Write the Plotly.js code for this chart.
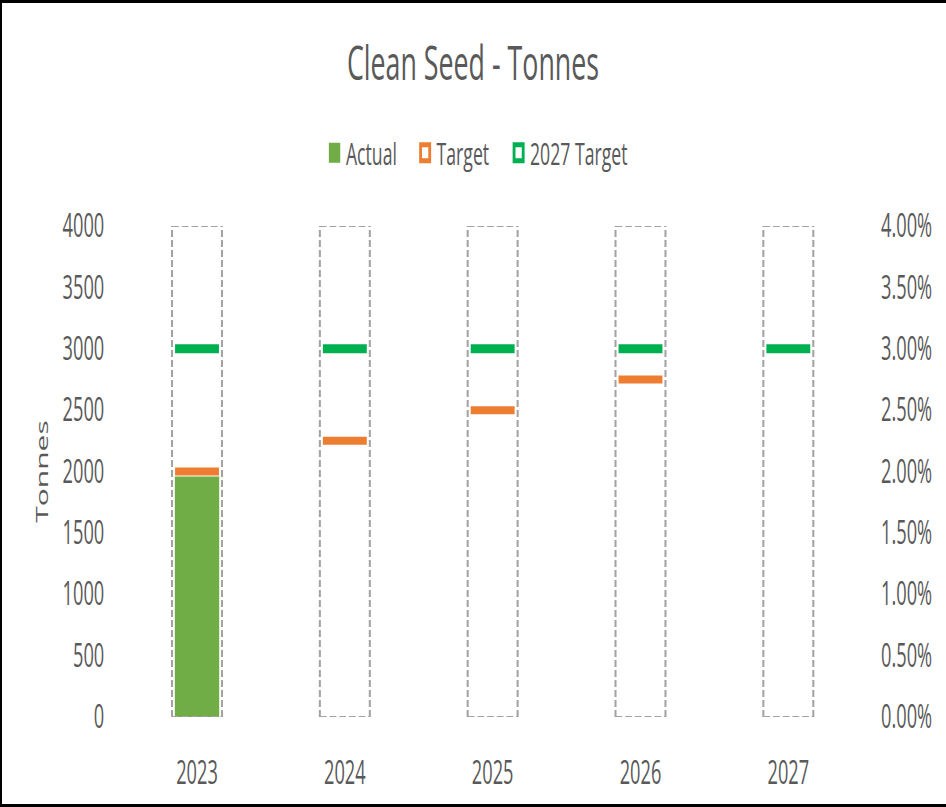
<!DOCTYPE html>
<html><head><meta charset="utf-8">
<script src="https://cdn.plot.ly/plotly-3.0.1.min.js"></script>
<style>
html,body{margin:0;padding:0;background:#fff;}
#wrap{position:relative;width:946px;height:807px;overflow:hidden;}
#chart{position:absolute;left:0;top:0;width:1660px;height:807px;transform:scaleX(0.569880);transform-origin:0 0;}
#frame{position:absolute;left:0;top:0;width:946px;height:807px;box-sizing:border-box;border-top:3px solid #000;border-left:2px solid #000;border-bottom:3px solid #000;pointer-events:none;}
</style></head><body>
<div id="wrap"><div id="chart"></div><div id="frame"></div></div>
<script>
// ---- data ----
const years = ['2023', '2024', '2025', '2026', '2027'];
const actual = [1960, null, null, null, null];
const target = [2000, 2250, 2500, 2750, null];
const target2027 = [3000, 3000, 3000, 3000, 3000];
const capacityPct = [0.04, 0.04, 0.04, 0.04, 0.04];
const seriesNames = ['Actual', 'Target', '2027 Target'];

// ---- styling ----
const TXT = '#595959';
const FONT = 'Open Sans, Noto Sans, sans-serif';
const GREEN = '#70ad47', ORANGE = '#ed7d31', BRIGHT = '#00b050';
const BOX_HALF = 0.169;

const traces = [
  {type: 'bar', x: years, y: actual, width: 0.3, marker: {color: GREEN}, showlegend: false, hoverinfo: 'skip'},
  {type: 'scatter', mode: 'markers', x: years, y: target, showlegend: false, hoverinfo: 'skip',
   marker: {symbol: 'line-ew', size: 55, color: ORANGE, line: {color: ORANGE, width: 8}}},
  {type: 'scatter', mode: 'markers', x: years, y: target2027, showlegend: false, hoverinfo: 'skip',
   marker: {symbol: 'line-ew', size: 55, color: BRIGHT, line: {color: BRIGHT, width: 9}}},
  {type: 'scatter', mode: 'markers', x: years, y: capacityPct, yaxis: 'y2', showlegend: false, hoverinfo: 'skip',
   marker: {opacity: 0, size: 1}},
  // legend entries
  {type: 'scatter', mode: 'markers', x: [null], y: [null], name: seriesNames[0], legendwidth: 114,
   marker: {symbol: 'square', size: 18, color: GREEN, line: {color: GREEN, width: 4}}},
  {type: 'scatter', mode: 'markers', x: [null], y: [null], name: seriesNames[1], legendwidth: 119,
   marker: {symbol: 'square', size: 18, color: '#ffffff', line: {color: ORANGE, width: 5}}},
  {type: 'scatter', mode: 'markers', x: [null], y: [null], name: seriesNames[2],
   marker: {symbol: 'square', size: 18, color: '#ffffff', line: {color: BRIGHT, width: 5}}}
];

const shapes = [];
years.forEach((yr, i) => {
  const top = capacityPct[i];
  const xl = i - BOX_HALF, xr = i + BOX_HALF;
  const vline = {color: '#a3a3a3', width: 3.6, dash: '7px,3px'};
  const hline = {color: '#a3a3a3', width: 2, dash: '12px,5px'};
  shapes.push({type: 'line', xref: 'x', yref: 'y2', x0: xl, x1: xl, y0: 0, y1: top, line: vline});
  shapes.push({type: 'line', xref: 'x', yref: 'y2', x0: xr, x1: xr, y0: 0, y1: top, line: vline});
  shapes.push({type: 'line', xref: 'x', yref: 'y2', x0: xl, x1: xr, y0: top, y1: top, line: hline});
  shapes.push({type: 'line', xref: 'x', yref: 'y2', x0: xl, x1: xr, y0: 0, y1: 0, line: hline});
});

const layout = {
  width: 1660, height: 807,
  margin: {l: 216, r: 147, t: 226, b: 90, pad: 0},
  paper_bgcolor: '#ffffff', plot_bgcolor: '#ffffff',
  font: {family: FONT, color: TXT},
  title: {text: 'Clean Seed - Tonnes', font: {family: FONT, size: 47, color: TXT},
          xref: 'container', x: 0.5, xanchor: 'center', yref: 'container', y: 0.9207, yanchor: 'middle'},
  showlegend: true,
  legend: {orientation: 'h', xref: 'container', x: 0.3416, xanchor: 'left', yref: 'container', y: 0.8104, yanchor: 'middle',
           font: {family: FONT, size: 31, color: TXT}, bgcolor: 'rgba(0,0,0,0)', traceorder: 'normal'},
  xaxis: {type: 'category', categoryorder: 'array', categoryarray: years, range: [-0.5, 4.5],
          showgrid: false, zeroline: false, showline: false, ticks: '', ticklabelstandoff: 34,
          tickfont: {family: FONT, size: 32, color: TXT}, fixedrange: true},
  yaxis: {range: [0, 4000], dtick: 500, tick0: 0, showgrid: false, zeroline: false, showline: false, ticks: '',
          ticklabelstandoff: 32, tickfont: {family: FONT, size: 32, color: TXT},
          title: {text: 'Tonnes', font: {family: FONT, size: 30, color: TXT}, standoff: 15}, fixedrange: true},
  yaxis2: {overlaying: 'y', side: 'right', anchor: 'x', range: [0, 0.04], dtick: 0.005, tick0: 0, tickformat: '.2%',
           showgrid: false, zeroline: false, showline: false, ticks: '', ticklabelstandoff: 32,
           tickfont: {family: FONT, size: 32, color: TXT}, fixedrange: true},
  bargap: 0.7,
  shapes: shapes
};

Plotly.newPlot('chart', traces, layout, {displayModeBar: false, staticPlot: true});
</script>
</body></html>
